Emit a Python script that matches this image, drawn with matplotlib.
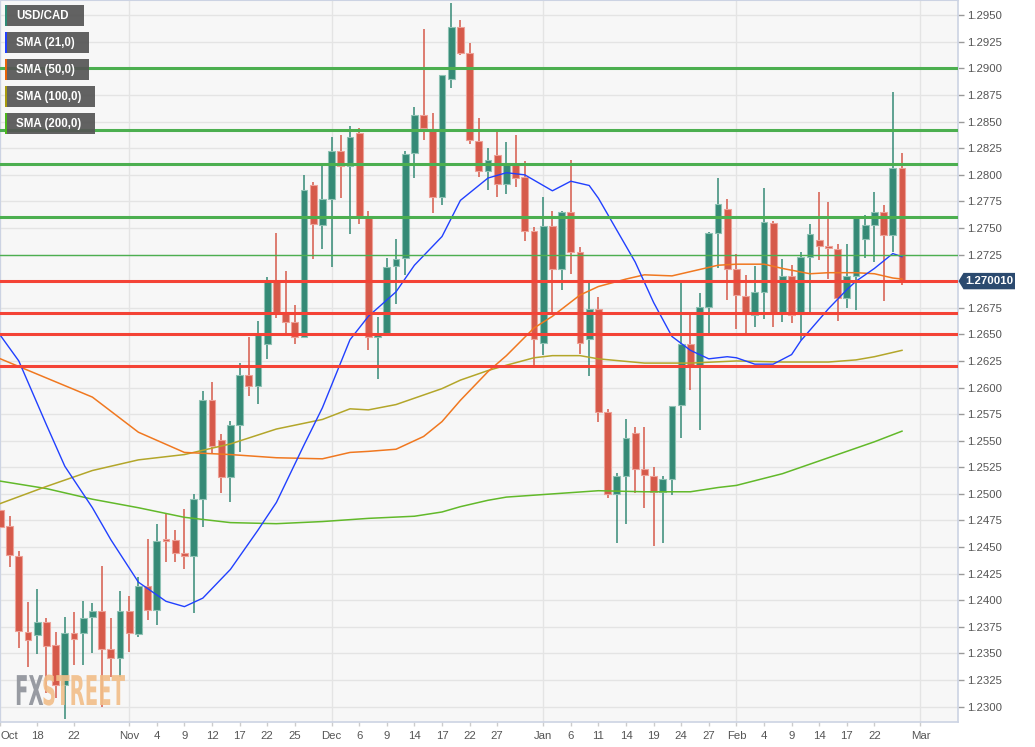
import matplotlib
matplotlib.use("Agg")
import matplotlib.pyplot as plt
import numpy as np
from matplotlib.patches import Rectangle, Polygon, PathPatch
from matplotlib.textpath import TextPath
from matplotlib.font_manager import FontProperties
from matplotlib.transforms import Affine2D, blended_transform_factory

plt.rcParams['font.family'] = ['Liberation Sans', 'DejaVu Sans']

# ---------------- data ----------------
opens = [1.2485, 1.2470, 1.2442, 1.2370, 1.2367, 1.2380, 1.2358, 1.2320, 1.2369, 1.2369,
         1.2384, 1.2390, 1.2354, 1.2346, 1.2390, 1.2368, 1.2413, 1.2391, 1.2458, 1.2457,
         1.2444, 1.2442, 1.2495, 1.2588, 1.2551, 1.2516, 1.2565, 1.2612, 1.2601, 1.2641,
         1.2700, 1.2671, 1.2662, 1.2648, 1.2790, 1.2753, 1.2777, 1.2822, 1.2808, 1.2839,
         1.2760, 1.2648, 1.2651, 1.2714, 1.2722, 1.2821, 1.2856, 1.2843, 1.2779, 1.2890,
         1.2939, 1.2915, 1.2832, 1.2804, 1.2819, 1.2791, 1.2810, 1.2798, 1.2747, 1.2642,
         1.2752, 1.2711, 1.2765, 1.2727, 1.2646, 1.2674, 1.2577, 1.2500, 1.2517, 1.2557,
         1.2523, 1.2517, 1.2502, 1.2514, 1.2584, 1.2641, 1.2621, 1.2676, 1.2745, 1.2768,
         1.2711, 1.2686, 1.2668, 1.2690, 1.2755, 1.2671, 1.2705, 1.2669, 1.2723, 1.2739,
         1.2733, 1.2730, 1.2684, 1.2705, 1.2740, 1.2753, 1.2765, 1.2743, 1.2806]
highs = [1.2499, 1.2479, 1.2446, 1.2398, 1.2411, 1.2383, 1.2370, 1.2384, 1.2389, 1.2399,
         1.2397, 1.2432, 1.2383, 1.2409, 1.2404, 1.2422, 1.2458, 1.2472, 1.2481, 1.2466,
         1.2486, 1.2500, 1.2597, 1.2605, 1.2556, 1.2569, 1.2623, 1.2648, 1.2663, 1.2704,
         1.2745, 1.2710, 1.2678, 1.2800, 1.2793, 1.2810, 1.2836, 1.2837, 1.2846, 1.2844,
         1.2766, 1.2666, 1.2722, 1.2740, 1.2822, 1.2864, 1.2937, 1.2858, 1.2894, 1.2962,
         1.2946, 1.2924, 1.2853, 1.2825, 1.2840, 1.2831, 1.2837, 1.2813, 1.2751, 1.2779,
         1.2766, 1.2766, 1.2814, 1.2732, 1.2698, 1.2685, 1.2580, 1.2520, 1.2570, 1.2563,
         1.2563, 1.2525, 1.2517, 1.2583, 1.2699, 1.2669, 1.2689, 1.2746, 1.2797, 1.2777,
         1.2726, 1.2706, 1.2714, 1.2788, 1.2757, 1.2721, 1.2715, 1.2727, 1.2754, 1.2784,
         1.2774, 1.2735, 1.2735, 1.2761, 1.2762, 1.2784, 1.2772, 1.2878, 1.2821]
lows = [1.2435, 1.2431, 1.2355, 1.2337, 1.2349, 1.2313, 1.2308, 1.2288, 1.2339, 1.2339,
        1.2350, 1.2300, 1.2328, 1.2328, 1.2351, 1.2365, 1.2381, 1.2377, 1.2436, 1.2436,
        1.2429, 1.2388, 1.2469, 1.2538, 1.2501, 1.2492, 1.2539, 1.2592, 1.2585, 1.2627,
        1.2665, 1.2651, 1.2641, 1.2647, 1.2721, 1.2730, 1.2713, 1.2778, 1.2744, 1.2754,
        1.2635, 1.2608, 1.2649, 1.2679, 1.2706, 1.2797, 1.2833, 1.2764, 1.2772, 1.2882,
        1.2913, 1.2829, 1.2798, 1.2786, 1.2779, 1.2782, 1.2789, 1.2738, 1.2621, 1.2631,
        1.2668, 1.2692, 1.2707, 1.2632, 1.2611, 1.2568, 1.2496, 1.2454, 1.2472, 1.2501,
        1.2487, 1.2451, 1.2454, 1.2499, 1.2553, 1.2598, 1.2560, 1.2649, 1.2712, 1.2682,
        1.2655, 1.2650, 1.2657, 1.2664, 1.2657, 1.2662, 1.2661, 1.2645, 1.2668, 1.2720,
        1.2702, 1.2663, 1.2675, 1.2673, 1.2722, 1.2718, 1.2681, 1.2727, 1.2696]
closes = [1.2469, 1.2443, 1.2371, 1.2363, 1.2380, 1.2357, 1.2320, 1.2369, 1.2364, 1.2383,
          1.2390, 1.2354, 1.2346, 1.2390, 1.2369, 1.2413, 1.2391, 1.2456, 1.2456, 1.2444,
          1.2442, 1.2495, 1.2588, 1.2545, 1.2516, 1.2565, 1.2612, 1.2601, 1.2649, 1.2700,
          1.2671, 1.2662, 1.2648, 1.2786, 1.2754, 1.2777, 1.2822, 1.2808, 1.2836, 1.2761,
          1.2648, 1.2650, 1.2713, 1.2721, 1.2820, 1.2856, 1.2844, 1.2779, 1.2894, 1.2939,
          1.2915, 1.2833, 1.2804, 1.2814, 1.2791, 1.2811, 1.2797, 1.2747, 1.2646, 1.2752,
          1.2711, 1.2765, 1.2727, 1.2642, 1.2674, 1.2577, 1.2500, 1.2517, 1.2553, 1.2523,
          1.2518, 1.2502, 1.2514, 1.2583, 1.2641, 1.2621, 1.2676, 1.2745, 1.2773, 1.2711,
          1.2687, 1.2669, 1.2690, 1.2756, 1.2670, 1.2705, 1.2668, 1.2723, 1.2744, 1.2733,
          1.2731, 1.2684, 1.2705, 1.2760, 1.2753, 1.2765, 1.2743, 1.2806, 1.2701]

sma21_idx = [0, 2, 5, 7, 10, 12, 15, 18, 20, 22, 25, 28, 30, 33, 35, 38, 40, 43, 45, 48,
             50, 53, 55, 57, 60, 62, 64, 65, 67, 69, 71, 73, 75, 77, 79, 80, 82, 84, 86, 87,
             88, 90, 92, 93, 95, 97, 98]
sma21_val = [1.2649, 1.2625, 1.2565, 1.2526, 1.2487, 1.2457, 1.2417, 1.2399, 1.2394, 1.2402,
             1.2429, 1.2466, 1.2492, 1.2546, 1.2581, 1.2645, 1.2667, 1.2690, 1.2715, 1.2742,
             1.2776, 1.2797, 1.2802, 1.2800, 1.2785, 1.2794, 1.2790, 1.2778, 1.2748, 1.2718,
             1.2680, 1.2648, 1.2635, 1.2627, 1.2629, 1.2628, 1.2622, 1.2622, 1.2631, 1.2644,
             1.2654, 1.2674, 1.2692, 1.2700, 1.2712, 1.2726, 1.2723]
sma50_idx = [0, 5, 10, 15, 20, 25, 30, 35, 38, 40, 43, 46, 48, 50, 53, 55, 58, 60, 63, 65,
             68, 70, 73, 75, 78, 80, 83, 85, 88, 90, 93, 95, 97, 98]
sma50_val = [1.2627, 1.2609, 1.2591, 1.2558, 1.2539, 1.2537, 1.2534, 1.2533, 1.2539, 1.2540,
             1.2542, 1.2554, 1.2568, 1.2588, 1.2615, 1.2630, 1.2656, 1.2667, 1.2687, 1.2695,
             1.2702, 1.2706, 1.2705, 1.2709, 1.2715, 1.2716, 1.2716, 1.2712, 1.2707, 1.2708,
             1.2708, 1.2707, 1.2703, 1.2702]
sma100_idx = [0, 5, 10, 15, 20, 22, 25, 30, 35, 38, 40, 43, 46, 48, 50, 53, 55, 58, 60, 63,
              65, 70, 75, 80, 85, 90, 93, 95, 98]
sma100_val = [1.2491, 1.2507, 1.2522, 1.2532, 1.2537, 1.2541, 1.2547, 1.2561, 1.2570, 1.2580,
              1.2579, 1.2584, 1.2593, 1.2599, 1.2607, 1.2616, 1.2621, 1.2628, 1.2630, 1.2630,
              1.2627, 1.2623, 1.2623, 1.2625, 1.2624, 1.2624, 1.2626, 1.2629, 1.2635]
sma200_idx = [0, 5, 10, 15, 20, 25, 30, 35, 40, 45, 48, 50, 53, 55, 60, 65, 70, 75, 78, 80,
              85, 90, 95, 98]
sma200_val = [1.2512, 1.2505, 1.2495, 1.2487, 1.2478, 1.2473, 1.2472, 1.2474, 1.2477, 1.2479,
              1.2483, 1.2488, 1.2494, 1.2497, 1.2500, 1.2503, 1.2502, 1.2502, 1.2506, 1.2508,
              1.2519, 1.2534, 1.2549, 1.2559]

green_levels = [1.2900, 1.2842, 1.2810, 1.2760]
thin_green_level = 1.2725
red_levels = [1.2700, 1.2670, 1.2650, 1.2620]
last_price = 1.27001
last_label = "1.270010"

xtick_pos = [0, 4, 8, 14, 17, 20, 23, 26, 29, 32, 36, 39, 42, 45, 48, 51, 54, 59, 62, 65,
             68, 71, 74, 77, 80, 83, 86, 89, 92, 95, 100]
xtick_lab = ["Oct", "18", "22", "Nov", "4", "9", "12", "17", "22", "25", "Dec", "6", "9",
             "14", "17", "22", "27", "Jan", "6", "11", "14", "19", "24", "27", "Feb", "4",
             "9", "14", "17", "22", "Mar"]
month_pos = [0, 14, 36, 59, 80, 100]

legend_labels = ["USD/CAD", "SMA (21,0)", "SMA (50,0)", "SMA (100,0)", "SMA (200,0)"]

# ---------------- style ----------------
W, H = 1035, 747
UP = "#358a76"
UP_EDGE = "#8fc2b4"
DN = "#d65a4a"
DN_EDGE = "#eda197"
C21, C50, C100, C200 = "#2140ff", "#f07820", "#b3a62a", "#62b92a"
strip_cols = ["#2e8b76", C21, "#e8640a", "#a89a10", "#4cb81c"]

fig = plt.figure(figsize=(W / 100, H / 100), dpi=100)
fig.patch.set_facecolor("white")
ax_bottom = (H - 721.5) / H
ax = fig.add_axes([0, ax_bottom, 958.3 / W, 1 - ax_bottom])
ax.set_facecolor("#f7f7f7")

ymin, ymax = 1.22860, 1.29644
ax.set_ylim(ymin, ymax)
ax.set_xlim(-0.045, 104.12)

# grid
yt = np.arange(1.2300, 1.29501, 0.0025)
for v in yt:
    ax.axhline(v, color="#e4e4e4", lw=1.0, zorder=0)
for m in month_pos:
    ax.axvline(m, color="#e4e4e4", lw=1.0, zorder=0)

# watermark (behind candles)
fp = FontProperties(family="DejaVu Sans", weight="bold")
def logo(txt, x0, col):
    tp = TextPath((0, 0), txt, size=41, prop=fp)
    tr = Affine2D().scale(0.48, 1.0).translate(x0, 42)
    fig.patches.append(PathPatch(tp, transform=tr, facecolor=col, edgecolor="none",
                                 alpha=0.9, zorder=0.5))
logo("FX", 15, "#8e9199")
logo("STREET", 42, "#f2be88")

# candles
x = np.arange(len(closes))
o = np.array(opens); c = np.array(closes); h = np.array(highs); l = np.array(lows)
up = c >= o
bw = 0.74
bot = np.minimum(o, c)
hgt = np.maximum(np.abs(c - o), 0.00015)
for mask, fc, ec in ((up, UP, UP_EDGE), (~up, DN, DN_EDGE)):
    ax.vlines(x[mask], l[mask], h[mask], color=fc, lw=1.1, zorder=2)
    ax.bar(x[mask], hgt[mask], bottom=bot[mask], width=bw, color=fc,
           edgecolor=ec, linewidth=0.8, zorder=3)

# SMA lines
ax.plot(sma200_idx, sma200_val, color=C200, lw=1.1, zorder=4)
ax.plot(sma100_idx, sma100_val, color=C100, lw=1.1, zorder=4)
ax.plot(sma50_idx, sma50_val, color=C50, lw=1.1, zorder=4)
ax.plot(sma21_idx, sma21_val, color=C21, lw=1.0, zorder=4)

# levels
ax.axhline(last_price - 0.00008, color="#1d2f4f", lw=1.2, zorder=5)
for v in green_levels:
    ax.axhline(v, color="#4caf50", lw=2.2, zorder=6)
ax.axhline(thin_green_level, color="#4caf50", lw=1.0, zorder=6)
for v in red_levels:
    ax.axhline(v, color="#f44336", lw=2.2, zorder=6)

# axes styling
for s in ["left", "top"]:
    ax.spines[s].set_color("#ccd3e3")
    ax.spines[s].set_linewidth(1.5)
for s in ["right", "bottom"]:
    ax.spines[s].set_color("#ccd3e3")
    ax.spines[s].set_linewidth(1.2)
ax.yaxis.tick_right()
ax.set_yticks(yt)
# the 1.2700 label is hidden behind the last-price tag in the reference
ax.set_yticklabels(["" if abs(v - 1.2700) < 1e-6 else f"{v:.4f}" for v in yt])
ax.tick_params(axis="y", colors="#999999", labelcolor="#555555", labelsize=8.2,
               length=4.5, width=1, pad=2)
ax.set_xticks(xtick_pos)
ax.set_xticklabels(xtick_lab)
ax.tick_params(axis="x", colors="#cccccc", labelcolor="#555555", labelsize=8.2,
               length=3, width=1, pad=4)
ax.get_xticklabels()[0].set_horizontalalignment("left")

# last price tag
btr = blended_transform_factory(fig.transFigure, ax.transData)
hh = 8.2 * (ymax - ymin) / 721.5
poly = Polygon([(958.5 / W, last_price), (963.5 / W, last_price + hh), (1015 / W, last_price + hh),
                (1015 / W, last_price - hh), (963.5 / W, last_price - hh)], closed=True,
               transform=btr, facecolor="#2b4a6f", edgecolor="none", zorder=10, clip_on=False)
fig.patches.append(poly)
fig.text(989.5 / W, last_price, last_label, transform=btr, color="white", fontsize=8.2,
         fontweight="bold", ha="center", va="center", zorder=11)

# legend boxes
def pbox(x0, y0, x1, y1, col, alpha=1.0, z=20):
    fig.patches.append(Rectangle((x0 / W, 1 - y1 / H), (x1 - x0) / W, (y1 - y0) / H,
                                 transform=fig.transFigure, facecolor=col, edgecolor="none",
                                 alpha=alpha, zorder=z))
box_x1 = [84, 89, 89, 95, 95]
for k, lab in enumerate(legend_labels):
    y0 = 5 + 27 * k
    pbox(5, y0, box_x1[k], y0 + 21, "#555555", alpha=0.92)
    pbox(5, y0, 7.3, y0 + 21, strip_cols[k], z=21)
    fig.text(16 / W, 1 - (y0 + 10.8) / H, lab, color="white", fontsize=8.3,
             fontweight="bold", ha="left", va="center", zorder=22)

fig.savefig("out.png", dpi=100)
